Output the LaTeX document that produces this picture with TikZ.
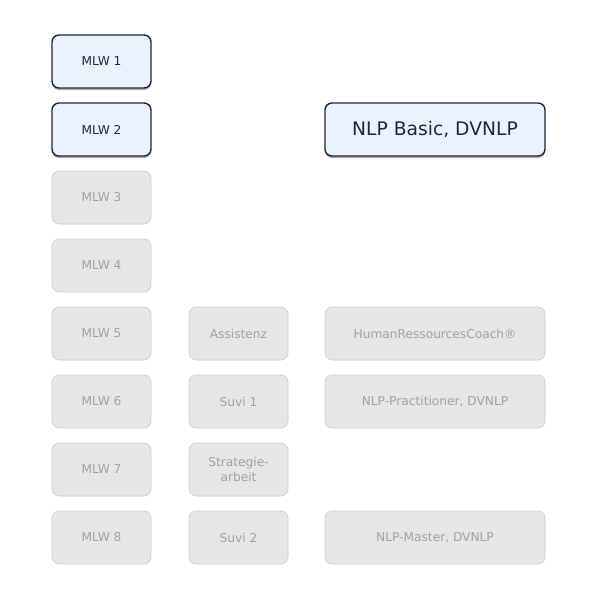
\documentclass[tikz,border=0pt]{standalone}
\usepackage{fontspec}
\setmainfont{DejaVu Sans}
\usetikzlibrary{shadows}
\definecolor{actfill}{HTML}{EAF3FD}
\definecolor{actdraw}{HTML}{1E2838}
\definecolor{acttext}{HTML}{1C2740}
\definecolor{offfill}{HTML}{E6E6E6}
\definecolor{offdraw}{HTML}{CDCDCD}
\definecolor{offtext}{HTML}{A3A3A3}
\tikzset{
  base/.style={rounded corners=7pt, align=center, inner sep=0pt, font=\fontsize{12.2}{14.5}\selectfont},
  act/.style={base, fill=actfill, draw=actdraw, line width=1.4pt, text=acttext,
    drop shadow={shadow xshift=0pt, shadow yshift=-2pt, fill=black!55, opacity=0.6}},
  off/.style={base, fill=offfill, draw=offdraw, line width=0.6pt, text=offtext},
  small/.style={minimum width=99pt, minimum height=53pt},
  wide/.style={minimum width=220pt, minimum height=53pt},
}
\begin{document}
\begin{tikzpicture}[x=1pt,y=-1pt]
\useasboundingbox (0,0) rectangle (598,598);
\fill[white] (0,0) rectangle (598,598);
% column 1
\node[act,small] (m1) at (101.5,61.5) {MLW 1};
\node[act,small] (m2) at (101.5,129.5) {MLW 2};
\node[off,small] (m3) at (101.5,197.5) {MLW 3};
\node[off,small] (m4) at (101.5,265.5) {MLW 4};
\node[off,small] (m5) at (101.5,333.5) {MLW 5};
\node[off,small] (m6) at (101.5,401.5) {MLW 6};
\node[off,small] (m7) at (101.5,469.5) {MLW 7};
\node[off,small] (m8) at (101.5,537.5) {MLW 8};
% column 2
\node[off,small] (as) at (238.5,333.5) {Assistenz};
\node[off,small] (s1) at (238.5,401.5) {Suvi 1};
\node[off,small] (sa) at (238.5,469.5) {Strategie-\\arbeit};
\node[off,small] (s2) at (238.5,537.5) {Suvi 2};
% column 3
\node[act,wide,font=\fontsize{18.7}{22}\selectfont] (nb) at (435,129.5) {NLP Basic, DVNLP};
\node[off,wide] (hr) at (435,333.5) {HumanRessourcesCoach®};
\node[off,wide] (pr) at (435,401.5) {NLP-Practitioner, DVNLP};
\node[off,wide] (ma) at (435,537.5) {NLP-Master, DVNLP};
\end{tikzpicture}
\end{document}
